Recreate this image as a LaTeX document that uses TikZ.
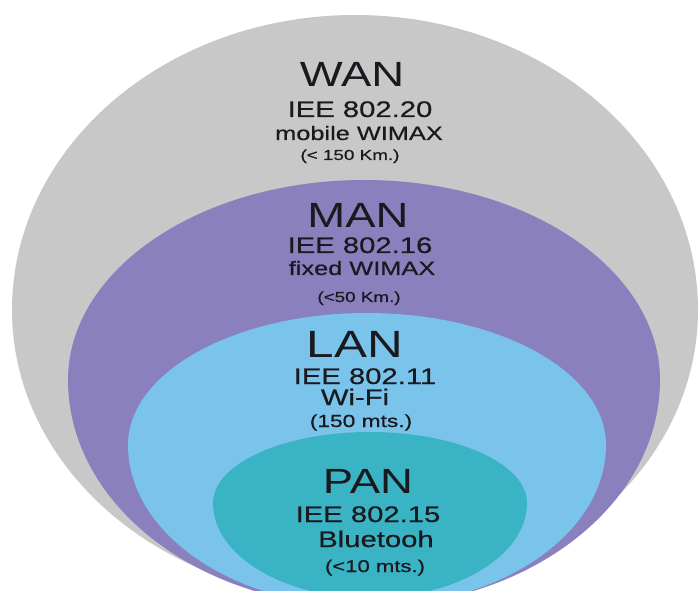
\documentclass[tikz,border=0pt]{standalone}
\usepackage{fontspec}
\setmainfont{Liberation Sans}
\newfontfamily\widefont[FakeStretch=1.3]{Liberation Sans}
\newfontfamily\widebold[FakeStretch=1.3,FakeBold=0.6]{Liberation Sans}
\definecolor{wanc}{RGB}{200,200,200}
\definecolor{manc}{RGB}{139,128,190}
\definecolor{lanc}{RGB}{122,196,236}
\definecolor{panc}{RGB}{58,180,196}
\definecolor{txt}{RGB}{25,25,30}
\begin{document}
\begin{tikzpicture}[x=1pt,y=1pt,
  lbl/.style={inner sep=0pt, anchor=base, text=txt},
  big/.style={lbl, font=\widefont\fontsize{35}{35}\selectfont},
  mid/.style={lbl, font=\widebold\fontsize{22.5}{22.5}\selectfont},
  sub/.style={lbl, font=\widebold\fontsize{19.5}{19.5}\selectfont},
  tiny/.style={lbl, font=\widebold\fontsize{14.5}{14.5}\selectfont}]
\useasboundingbox (0,0) rectangle (699,590);
\clip (0,0) rectangle (699,590);
\fill[white] (0,0) rectangle (699,590);
% WAN
\fill[wanc] (12,280) arc[start angle=180,end angle=0,x radius=343,y radius=295]
  arc[start angle=0,end angle=-180,x radius=343,y radius=290];
% MAN
\fill[manc] (68,210) arc[start angle=180,end angle=0,x radius=296,y radius=200]
  arc[start angle=0,end angle=-180,x radius=296,y radius=227];
% LAN
\fill[lanc] (128,145) arc[start angle=180,end angle=0,x radius=239,y radius=132]
  arc[start angle=0,end angle=-180,x radius=239,y radius=162];
% PAN
\fill[panc] (213,87) arc[start angle=180,end angle=0,x radius=157,y radius=71]
  arc[start angle=0,end angle=-180,x radius=157,y radius=95];
% texts
\node[big] (wan) at (352,503) {WAN};
\node[mid] (wan1) at (360,473) {IEE 802.20};
\node[sub] (wan2) at (359,450) {mobile WIMAX};
\node[tiny] (wan3) at (350,430) {(< 150 Km.)};
\node[big] (man) at (358,362) {MAN};
\node[mid] (man1) at (360,337) {IEE 802.16};
\node[sub] (man2) at (362,315) {fixed WIMAX};
\node[tiny] (man3) at (359,288) {(<50 Km.)};
\node[big, font=\widefont\fontsize{38}{38}\selectfont] (lan) at (355,233) {LAN};
\node[mid] (lan1) at (365,206) {IEE 802.11};
\node[mid] (lan2) at (355,185) {Wi-Fi};
\node[tiny, font=\widebold\fontsize{17.5}{17.5}\selectfont] (lan3) at (361,163) {(150 mts.)};
\node[big] (pan) at (368,97) {PAN};
\node[mid] (pan1) at (368,68) {IEE 802.15};
\node[mid] (pan2) at (376,43) {Bluetooh};
\node[tiny, font=\widebold\fontsize{17}{17}\selectfont] (pan3) at (375,18) {(<10 mts.)};
\end{tikzpicture}
\end{document}
